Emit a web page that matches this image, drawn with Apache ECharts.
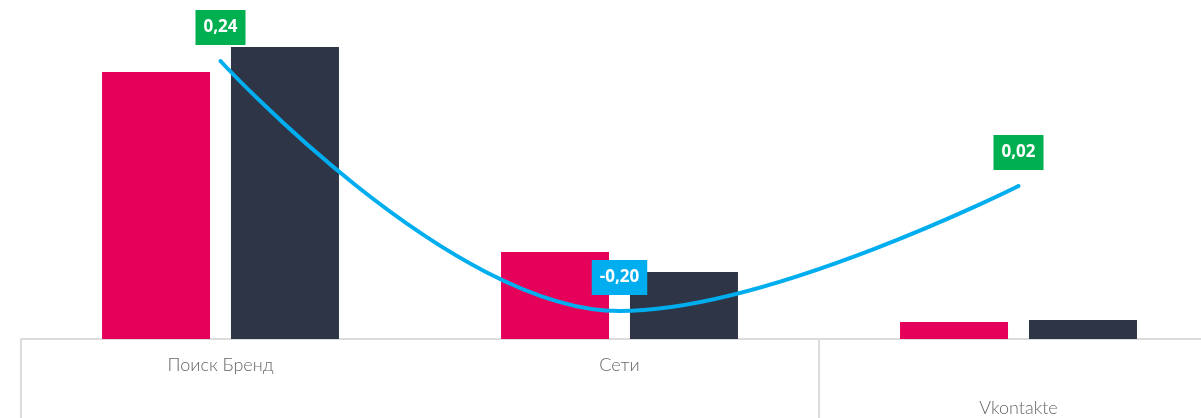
<!DOCTYPE html>
<html lang="ru">
<head>
    <meta charset="UTF-8">
    <title>Chart</title>
    <style>
        html, body { margin: 0; padding: 0; background: #fff; }
        #container { width: 1201px; height: 418px; }
    </style>
</head>
<body>
<div id="container"></div>
<script src="https://cdn.jsdelivr.net/npm/echarts@6/dist/echarts.min.js"></script>
<script>
  // data
  var categories = ['Поиск Бренд', 'Сети', 'Vkontakte'];
  var barPink = [267, 87, 17];
  var barDark = [292, 67, 19];
  var lineValues = [0.24, -0.20, 0.02];

  var chart = echarts.init(document.getElementById('container'));

  // line points with label colour by sign
  var lineData = lineValues.map(function (v) {
    return {
      value: v,
      label: { backgroundColor: v < 0 ? '#00AEEF' : '#00B050' }
    };
  });

  var option = {
    backgroundColor: '#fff',
    animation: false,
    grid: {
      left: 21,
      top: 39,
      width: 1197,
      height: 300,
      outerBoundsMode: 'none',
      containLabel: false
    },
    xAxis: {
      type: 'category',
      data: categories,
      axisLine: {
        lineStyle: { color: '#dcdcdc', width: 2 }
      },
      axisTick: {
        show: true,
        interval: 1,
        length: 90,
        lineStyle: { color: '#dcdcdc', width: 2 }
      },
      axisLabel: {
        interval: 0,
        margin: 15,
        fontSize: 18,
        lineHeight: 21.5,
        fontFamily: 'Lato',
        fontWeight: 300,
        color: '#666',
        formatter: function (value, idx) {
          // last label sits lower
          return idx === 2 ? '\n\n' + value : value;
        }
      }
    },
    yAxis: [{
      type: 'value',
      min: 0,
      max: 300,
      show: false,
      splitLine: { show: false }
    }, {
      type: 'value',
      min: -0.2493,
      max: 0.2787,
      show: false,
      splitLine: { show: false }
    }],
    series: [{
      type: 'bar',
      data: barPink,
      barWidth: 108,
      barGap: '19.4%',
      itemStyle: { color: '#E5005A' }
    }, {
      type: 'bar',
      data: barDark,
      barWidth: 108,
      itemStyle: { color: '#2E3546' }
    }, {
      type: 'line',
      yAxisIndex: 1,
      smooth: 0.4,
      data: lineData,
      symbol: 'circle',
      symbolSize: 4,
      itemStyle: { color: '#00AEEF' },
      lineStyle: { color: '#00AEEF', width: 4 },
      z: 5,
      label: {
        show: true,
        position: 'top',
        distance: 14,
        color: '#fff',
        fontSize: 17,
        lineHeight: 17,
        fontWeight: 'bold',
        fontFamily: 'Open Sans',
        padding: [9, 8, 9, 8],
        formatter: function (p) {
          return p.value.toFixed(2).replace('.', ',');
        }
      }
    }]
  };

  chart.setOption(option);
</script>
</body>
</html>
